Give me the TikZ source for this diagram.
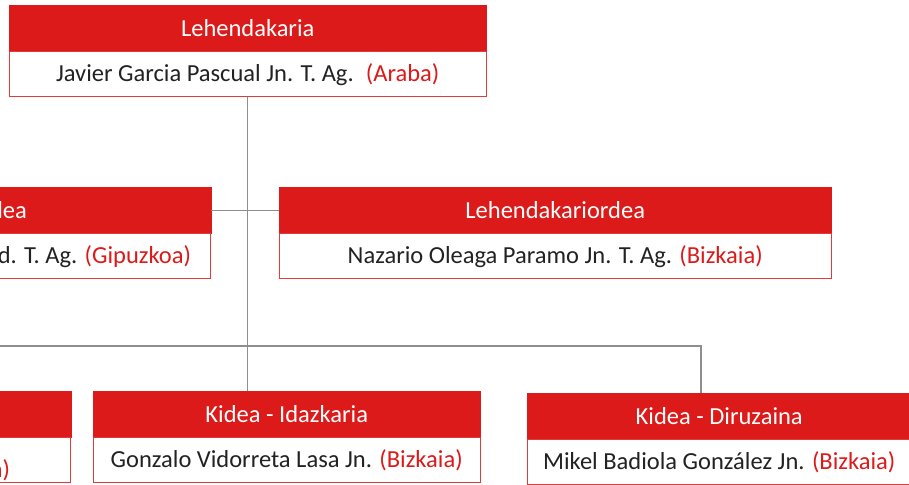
\documentclass[tikz,border=0pt]{standalone}
\usepackage{fontspec}
\setmainfont{Carlito}
\usetikzlibrary{positioning}
\definecolor{orgred}{HTML}{DC1A19}
\definecolor{orgtext}{HTML}{222222}
\definecolor{orgline}{HTML}{8E8E8E}
\tikzset{
  hdr/.style = {rectangle, fill=orgred, draw=orgred, text=white, inner sep=0pt,
    minimum height=46pt, font=\fontsize{24.5}{28}\selectfont},
  hdrtxt/.style = {inner sep=0pt, text=white, font=\fontsize{24.5}{28}\selectfont},
  body/.style = {rectangle, fill=white, draw=orgred!85, line width=0.9pt,
    inner sep=0pt, minimum height=45pt, text=orgtext,
    font=\fontsize{24.5}{28}\selectfont},% lerro zuria, izena
  bodytxt/.style = {inner sep=0pt, text=orgtext, font=\fontsize{24.5}{28}\selectfont},
  conn/.style = {draw=orgline, line width=1.3pt}
}
\newcommand{\lurr}[1]{{\color{orgred}(#1)}}

\begin{document}
\begin{tikzpicture}[x=1pt,y=-1pt]
    \useasboundingbox (0,0) rectangle (909,484);
    \clip (0,0) rectangle (909,484);
    % lehendakaria
    \node [hdr, minimum width=477pt, anchor=north west] (presH) at (9,5) {Lehendakaria};
    \node [body, minimum width=477pt, below=0pt of presH] (presB)
        {Javier Garcia Pascual Jn. T. Ag.\hspace{0.5em}\lurr{Araba}};
    % lehendakariordeak
    \node [hdr, minimum width=552pt, anchor=north east] (vpLH) at (211,187) {};
    \node [body, minimum width=552pt, below=0pt of vpLH] (vpLB) {};
    \node [hdrtxt, left=184pt of vpLH.east] (vpLHt) {dea};
    \node [bodytxt, left=20pt of vpLB.east] (vpLBt) {d. T. Ag. \lurr{Gipuzkoa}};
    \node [hdr, minimum width=552pt, anchor=north west] (vpRH) at (279,187) {Lehendakariordea};
    \node [body, minimum width=552pt, below=0pt of vpRH] (vpRB)
        {Nazario Oleaga Paramo Jn. T. Ag. \lurr{Bizkaia}};
    % kideak
    \node [hdr, minimum width=387pt, anchor=north east] (kLH) at (71,391) {};
    \node [body, minimum width=387pt, below=0pt of kLH] (kLB) {};
    \node [bodytxt, left=61pt of kLB.east, yshift=-10pt] (kLBt) {\color{orgred}a)};
    \node [hdr, minimum width=387pt, anchor=north west] (kIH) at (93,391) {Kidea - Idazkaria};
    \node [body, minimum width=387pt, below=0pt of kIH] (kIB)
        {Gonzalo Vidorreta Lasa Jn. \lurr{Bizkaia}};
    \node [hdr, minimum width=384pt, anchor=north west] (kDH) at (527,393) {Kidea - Diruzaina};
    \node [body, minimum width=384pt, below=0pt of kDH] (kDB)
        {Mikel Badiola González Jn. \lurr{Bizkaia}};
    % lerroak
    \coordinate (busW) at (-10,346);
    \coordinate (busE) at (701,346);
    \draw [conn] (presB.south) -- (presB.south |- kIH.north);
    \draw [conn] (vpLH.east) -- (vpRH.west);
    \draw [conn] (busW) -- (busE) -- (busE |- kDH.north);
\end{tikzpicture}
\end{document}
